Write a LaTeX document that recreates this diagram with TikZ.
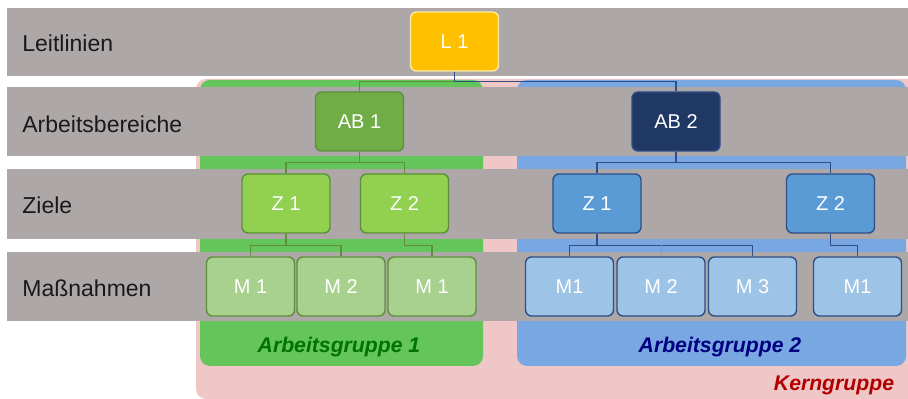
\documentclass[tikz,border=0pt]{standalone}
\usepackage{fontspec}
\setmainfont{Liberation Sans}
\usetikzlibrary{positioning}

\definecolor{bandgray}{HTML}{ADA7A7}
\definecolor{kernpink}{HTML}{EFC7C6}
\definecolor{aggreen}{HTML}{63C55A}
\definecolor{agblue}{HTML}{78A7E2}
\definecolor{leityellow}{HTML}{FFC000}
\definecolor{abgreen}{HTML}{70AD47}
\definecolor{zgreen}{HTML}{92D050}
\definecolor{mgreen}{HTML}{A9D18E}
\definecolor{linegreen}{HTML}{5E8F3C}
\definecolor{abblue}{HTML}{203864}
\definecolor{zblue}{HTML}{5B9BD5}
\definecolor{mblue}{HTML}{9DC3E6}
\definecolor{lineblue}{HTML}{2F4F86}

\begin{document}
\begin{tikzpicture}[x=0.5pt, y=-0.5pt,
  box/.style={draw, rectangle, rounded corners=3pt, minimum width=44pt,
    minimum height=29.5pt, line width=0.7pt, text=white,
    font=\fontsize{10}{12}\selectfont},
  gbox/.style={box, draw=linegreen},
  bbox/.style={box, draw=lineblue},
  rowlabel/.style={anchor=west, inner sep=0pt, text=black!90,
    font=\fontsize{11.5}{13}\selectfont},
  grouplabel/.style={inner sep=0pt, font=\fontsize{10.6}{12}\selectfont\bfseries\itshape},
  gline/.style={draw=linegreen, line width=0.6pt},
  bline/.style={draw=lineblue, line width=0.6pt}]
  \useasboundingbox (0,0) rectangle (908,399);

  % groups in the back
  \fill[kernpink, rounded corners=5pt] (196,79) rectangle (930,399);
  \fill[aggreen, rounded corners=5pt] (200,80) rectangle (483,366);
  \fill[agblue, rounded corners=5pt] (517,80) rectangle (906,366);

  % level bands
  \fill[bandgray] (7,8) rectangle (908,76);
  \fill[bandgray] (7,87) rectangle (908,156);
  \fill[bandgray] (7,169) rectangle (908,239);
  \fill[bandgray] (7,252) rectangle (908,321);

  \node[rowlabel] (leit) at (22,43) {Leitlinien};
  \node[rowlabel] (ab) at (22,124) {Arbeitsbereiche};
  \node[rowlabel] (ziele) at (22,205) {Ziele};
  \node[rowlabel] (mass) at (22,288) {Maßnahmen};

  % L 1
  \node[box, fill=leityellow, draw=leityellow!35!white] (l1) at (454.5,41.5) {L 1};

  % Arbeitsgruppe 1
  \node[gbox, fill=abgreen] (ab1) at (359.5,121.5) {AB 1};
  \node[gbox, fill=zgreen] (z1a) at (286,203.5) {Z 1};
  \node[gbox, fill=zgreen] (z2a) at (404.5,203.5) {Z 2};
  \node[gbox, fill=mgreen] (m1a) at (250.5,286.5) {M 1};
  \node[gbox, fill=mgreen] (m2a) at (341,286.5) {M 2};
  \node[gbox, fill=mgreen] (m3a) at (432,286.5) {M 1};

  % Arbeitsgruppe 2
  \node[bbox, fill=abblue] (ab2) at (676,121.5) {AB 2};
  \node[bbox, fill=zblue] (z1b) at (597,203.5) {Z 1};
  \node[bbox, fill=zblue] (z2b) at (830.5,203.5) {Z 2};
  \node[bbox, fill=mblue] (m1b) at (569.5,286.5) {M1};
  \node[bbox, fill=mblue] (m2b) at (661,286.5) {M 2};
  \node[bbox, fill=mblue] (m3b) at (752.5,286.5) {M 3};
  \node[bbox, fill=mblue] (m4b) at (857.5,286.5) {M1};

  \node[grouplabel, text=green!45!black] (ag1) at (339,347) {Arbeitsgruppe 1};
  \node[grouplabel, text=blue!50!black] (ag2) at (720,347) {Arbeitsgruppe 2};
  \node[grouplabel, text=red!70!black] (kern) at (834,385) {Kerngruppe};

  % connectors
  \draw[gline] (l1.south) -- ++(0,10) -| (ab1.north);
  \draw[bline] (l1.south) -- ++(0,10) -| (ab2.north);

  \draw[gline] (ab1.south) -- ++(0,11) -| (z1a.north);
  \draw[gline] (ab1.south) -- ++(0,11) -| (z2a.north);
  \draw[gline] (z1a.south) -- ++(0,12) -| (m1a.north);
  \draw[gline] (z1a.south) -- ++(0,12) -| (m2a.north);
  \draw[gline] (z2a.south) -- ++(0,12) -| (m3a.north);

  \draw[bline] (ab2.south) -- ++(0,11) -| (z1b.north);
  \draw[bline] (ab2.south) -- ++(0,11) -| (z2b.north);
  \draw[bline] (z1b.south) -- ++(0,12) -| (m1b.north);
  \draw[bline] (z1b.south) -- ++(0,12) -| (m3b.north);
  \draw[orange, line width=0.4pt] (m2b.north) ++(0,-12) -- ([yshift=1pt]m2b.north);
  \draw[bline] (z2b.south) -- ++(0,12) -| (m4b.north);
\end{tikzpicture}
\end{document}
